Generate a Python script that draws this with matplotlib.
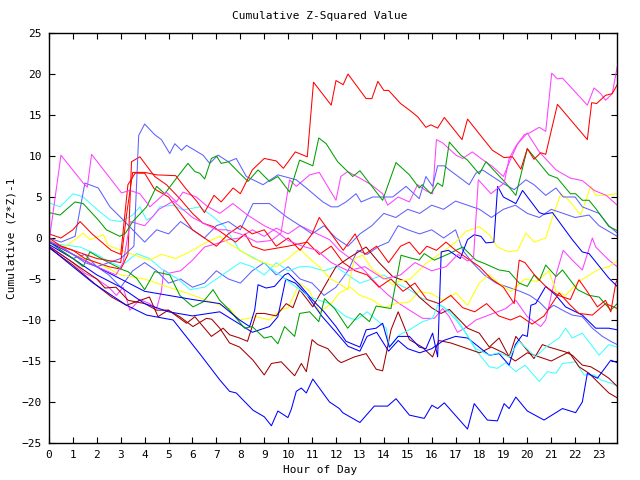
import matplotlib
matplotlib.use("Agg")
import matplotlib.pyplot as plt

# colours used by the old gnuplot gif terminal
RED = '#ff0000'
GREEN = '#00a000'
BLUE = '#0000ff'
LBLUE = '#6060ff'
MAGENTA = '#ff40ff'
CYAN = '#40ffff'
YELLOW = '#ffff00'
DRED = '#a00000'

# each series: hours and cumulative (Z*Z)-1 values
r1_h = [0, 0.5, 1, 2, 3, 3.25, 3.5, 4, 4.5, 5.3, 5.7, 6.2, 6.5, 6.9, 7.2, 7.7, 8.0, 8.5, 9.0, 9.5, 9.8, 10.3, 10.8,
        11.06, 11.8, 12.0, 12.3, 12.5, 13.26, 13.5, 13.75, 14.0, 14.2, 14.7, 15.07, 15.41, 15.76, 15.97, 16.25, 16.53,
        17.27, 17.5, 18.54, 19.03, 19.38, 19.73, 20.0, 20.28, 20.56, 20.77, 21.26, 22.51, 22.69, 22.9, 23.27, 23.55, 23.76]
r1_v = [0, -1, -1.5, -2.5, -3, 3, 8, 8, 7.7, 7.6, 6.1, 4.4, 3.1, 5.2, 4.4, 6.1, 5.4, 8.3, 9.7, 9.4, 8.5, 10.5, 9.9,
        19.0, 16.2, 19.2, 18.7, 20.0, 17.0, 17.0, 19.1, 18.0, 18.0, 16.4, 15.6, 14.8, 13.5, 13.8, 13.4, 14.7,
        12.0, 14.5, 10.7, 9.8, 9.9, 8.4, 10.9, 9.6, 10.4, 10.2, 16.3, 12.0, 16.5, 16.4, 17.4, 17.6, 18.7]

m2_h = [0, 0.5, 1.43, 1.6, 1.78, 3.03, 3.38, 3.8, 4.22, 4.9, 5.33, 5.6, 6.16, 6.6, 7.14, 7.69, 8.3, 9.0, 9.5, 10.0,
        10.6, 11.2, 11.8, 12.5, 13.2, 14.0, 14.7, 15.3, 16.0, 16.6, 17.1, 17.5, 17.75, 17.95, 18.48, 19.03, 19.24,
        19.52, 19.87, 20.08, 20.5, 20.77, 21.02, 21.26, 21.47, 22.51, 22.79, 23.07, 23.27, 23.55, 23.76]
m2_v = [-0.5, 10.1, 6.7, 6.2, 10.2, 5.5, 5.8, 5.4, 3.8, 5.6, 4.4, 5.6, 5.0, 3.9, 3.0, 4.2, 2.8, 1.5, 0.8, -0.3,
        -1.0, -1.5, -3.0, -4.0, -3.5, -5.0, -4.5, -3.0, -4.0, -3.5, -2.0, -2.8, -2.5, 7.1, 5.4, 6.7, 9.7,
        11.2, 12.6, 12.8, 13.5, 13.0, 20.1, 19.4, 19.5, 16.2, 18.3, 17.6, 16.8, 17.6, 20.9]

m3_h = [0, 1, 2, 2.8, 3.1, 3.4, 4, 4.6, 5.2, 6.0, 7.0, 7.42, 8.0, 8.7, 9.3, 9.7, 10.06, 10.34, 10.9, 11.3, 12.0,
        12.2, 12.49, 13.0, 13.47, 13.95, 14.16, 14.6, 15.07, 15.41, 15.8, 16.04, 16.2, 16.46, 17.02, 17.3, 17.7,
        18.06, 18.55, 19.0, 19.3, 19.6, 20.0, 20.5, 21.2, 21.8, 22.3, 22.8, 23.3, 23.76]
m3_v = [-0.3, -2, -3.5, -4.5, -3, 2, 1.5, 3.5, 4.5, 2.5, 1.0, 1.0, 0.5, -0.5, -0.3, 0.6, 7.1, 6.3, 7.7, 8.0, 4.6,
        7.5, 8.1, 7.3, 6.5, 5.4, 4.0, 5.0, 4.4, 6.5, 5.7, 5.4, 12.0, 11.6, 10.1, 9.7, 10.5,
        9.7, 8.7, 7.5, 9.6, 11.5, 12.8, 10.5, 8.3, 7.3, 7.0, 5.8, 5.2, 4.0]

m4_h = [0, 0.5, 1, 1.5, 2, 2.5, 2.82, 3.1, 3.38, 3.8, 4.2, 4.5, 4.7, 4.8, 5.0, 5.5, 6.0, 6.5, 7.0, 7.5, 7.97, 8.5,
        9.0, 9.5, 10.0, 10.5, 11.0, 11.73, 12.14, 12.7, 13.2, 13.8, 14.2, 14.65, 15.07, 15.62, 16.11, 16.46, 16.74,
        17.08, 17.5, 17.85, 18.3, 18.75, 19.1, 19.52, 20.0, 20.56, 20.77, 21.0, 21.2, 21.5, 21.88, 22.3, 22.72,
        22.86, 23.41, 23.76]
m4_v = [-1, -2, -3, -4.3, -5, -6, -7.0, -6, -8.8, -7.5, -8, -8.6, -6.5, -3.9, -4.3, -4.0, -2.7, -1.1, -0.7, -0.2,
        0.0, 1.0, 0.2, 1.2, 0.5, 1.5, 0.8, -0.2, -1.5, -2.7, -4.0, -5.9, -7.0, -8.0, -8.8, -9.8, -9.8, -8.6, -9.6,
        -11.5, -10.8, -10, -9.5, -9.0, -8.6, -7.6, -9.6, -10.8, -10, -7, -4.5, -1.5, -2.7, -3.9, 0,
        -1.1, -2.7, -3.5]

g1_h = [0, 0.46, 1.09, 1.43, 2.06, 2.4, 2.96, 3.2, 3.5, 4.08, 4.5, 4.84, 5.33, 5.81, 6.1, 6.3, 6.51, 6.79, 7.0, 7.2,
        7.5, 7.97, 8.32, 8.74, 9.22, 9.57, 10.06, 10.48, 11.03, 11.28, 11.59, 12.07, 12.7, 13.0, 13.95, 14.51,
        15.07, 15.48, 15.6, 15.97, 16.25, 16.46, 16.74, 17.22, 17.5, 17.99, 18.27, 19.1, 19.52, 20.0, 20.28, 20.9,
        21.26, 21.8, 22.02, 22.3, 22.58, 22.86, 23.41, 23.76]
g1_v = [3.1, 2.8, 4.4, 4.2, 2.2, 1.0, 0.2, 0.6, 2.0, 3.8, 6.3, 5.4, 7.3, 9.1, 8.1, 7.9, 7.2, 9.7, 10.0, 9.1,
        9.3, 7.9, 6.9, 8.3, 6.9, 7.5, 5.6, 9.5, 8.8, 12.2, 11.5, 9.3, 7.5, 8.2, 4.6, 9.2,
        7.7, 6.1, 6.5, 5.4, 6.7, 6.3, 11.7, 10.1, 9.5, 7.8, 9.3, 6.7, 5.2, 10.9, 9.9, 7.7,
        7.3, 5.4, 5.4, 4.6, 4.6, 3.6, 1.4, 0.9]

g2_h = [0, 0.5, 1.0, 1.43, 1.71, 2.06, 2.5, 3.1, 3.3, 3.66, 4.0, 4.42, 5.05, 5.47, 6.02, 6.44, 6.86, 7.14, 7.55,
        8.18, 8.5, 9.0, 9.3, 9.57, 9.85, 10.27, 10.48, 10.9, 11.28, 11.52, 11.94, 12.49, 13.0, 13.4, 13.68, 14.3,
        14.72, 15.07, 15.48, 15.69, 16.11, 16.74, 17.3, 17.85, 18.2, 18.82, 19.24, 19.66, 20.0, 20.28, 20.5,
        20.77, 21.2, 21.47, 22.1, 22.58, 23.0, 23.49, 23.76]
g2_v = [-0.3, -1.5, -2.5, -3.5, -1.7, -2.3, -3.0, -3.9, -4.1, -4.9, -6.3, -4.1, -4.5, -7.0, -8.4, -7.8, -6.3, -7.6, -8.8,
        -11.0, -10.8, -12.2, -12.0, -12.9, -10.8, -12.0, -9.2, -9.0, -10.2, -7.4, -8.6, -11.0, -9.2, -10.2, -8.3, -8.6,
        -2.1, -2.4, -2.7, -1.9, -2.7, -1.9, -1.1, -2.7, -3.1, -3.9, -4.1, -5.5, -5.9, -4.5, -5.2,
        -3.3, -4.7, -3.9, -6.3, -7.0, -7.2, -8.8, -8.0]

lb1_h = [0, 0.5, 1, 1.5, 2, 2.5, 3.0, 3.55, 3.75, 4.0, 4.42, 4.7, 5.05, 5.26, 5.54, 5.75, 6.44, 6.72, 7.07, 7.5, 7.83,
         8.25, 8.95, 9.57, 10.34, 10.8, 11.45, 11.8, 12.07, 12.42, 12.84, 13.05, 13.54, 14.37, 14.93, 15.48, 15.76,
         16.04, 16.25, 16.53, 16.74, 17.57, 17.85, 18.13, 18.96, 19.45, 19.94, 20.28, 20.77, 21.2, 21.5, 22.0, 22.3,
         23.0, 23.41, 23.76]
lb1_v = [-0.5, -1, -2, -3, -3.5, -3, -2.5, -1, 12.5, 13.9, 12.6, 12.0, 10.3, 11.5, 10.7, 11.3, 10.1, 9.1, 10.1, 9.3, 9.7,
         7.5, 6.5, 7.7, 7.1, 6.0, 4.4, 3.8, 3.8, 4.4, 5.4, 4.4, 5.0, 5.0, 6.3, 4.8, 7.5,
         6.3, 8.8, 8.8, 8.3, 6.5, 7.9, 8.3, 6.7, 5.9, 7.1, 6.5, 5.2, 6.1, 5.0, 5.0, 3.8,
         3.0, 1.5, 0.6]

lb3_h = [0, 0.5, 1.09, 1.5, 2.06, 2.55, 3.0, 3.5, 4.0, 4.5, 5.0, 5.5, 6.0, 6.5, 7.0, 7.5, 8.0, 8.53, 9.22, 9.92, 10.5,
         11.0, 11.5, 12.0, 12.5, 13.0, 13.5, 14.0, 14.5, 15.0, 15.5, 16.0, 16.5, 17.0, 17.5, 18.0, 18.5, 19.0, 19.5,
         20.0, 20.5, 21.0, 21.5, 22.0, 22.58, 23.0, 23.41, 23.76]
lb3_v = [0, -0.5, 0.2, 6.7, 6.1, 3.8, 2.5, 1.0, -0.5, 1.0, 0.5, 2.0, 1.0, 0.0, 1.5, 2.0, 1.0, 4.2, 4.2, 2.6, 1.5,
         0.5, 1.5, 0.0, -1.0, 0.5, 1.5, 3.0, 2.5, 3.5, 3.0, 4.0, 3.5, 4.5, 4.0, 3.5, 2.5, 3.5, 4.0,
         3.0, 2.5, 3.5, 3.0, 2.5, 2.8, 1.5, 0.8, 0.2]

lb4_h = [0, 1, 1.5, 2, 2.5, 3, 3.5, 4, 4.5, 5, 5.5, 6, 6.5, 7, 7.5, 8, 8.5, 9, 9.5, 10, 10.5, 11, 11.5, 12, 12.5,
         12.9, 13.3, 13.8, 14.2, 14.6, 15.0, 15.5, 16.0, 16.5, 17.0, 17.3, 17.7, 18.2, 18.7, 19.2, 19.7, 20.1,
         20.5, 20.84, 21.1, 21.6, 21.88, 22.3, 22.72, 23.14, 23.49, 23.76]
lb4_v = [-0.5, -2.5, -2, -3.5, -4.5, -6, -4, -3, -4, -5.5, -5, -6, -5.5, -4, -5, -5.5, -4, -3, -4.5, -3.5, -5, -5.5,
         -7, -6, -4, -1.5, -2, -1, -0.5, 1.5, 1.0, 0.5, 1.0, 0.0, 1.0, -1.5, -3.0, -4.5, -5.5, -6.0, -6.5, -7.0,
         -7.8, -8.8, -8.2, -9.0, -9.4, -9.6, -11.0, -12.0, -12.6, -13.0]

bj_h = [0, 1, 2, 3, 4, 5, 6, 7.14, 7.97, 8.39, 8.6, 8.74, 9.08, 9.43, 9.85, 10.0, 10.48, 11.0, 11.5, 12.0, 12.42,
        13.0, 13.26, 13.68, 13.95, 14.23, 14.6, 15.07, 15.48, 15.76, 16.04, 16.25, 16.4, 16.7, 17.2, 17.5, 17.78,
        18.06, 18.27, 18.6, 18.76, 19.0, 19.52, 19.8, 20.5, 20.7, 21.05, 21.88, 22.3, 22.58, 23.41, 23.76]
bj_v = [-0.5, -2, -3.5, -5, -6.5, -7, -7.5, -8.0, -10, -10.8, -8.8, -5.7, -6.1, -5.9, -4.5, -4.3, -5.7, -7.5, -9.0,
        -10.8, -12.6, -13.3, -11.2, -11.0, -10.4, -13.3, -12.0, -12.0, -13.3, -13.5, -11.6, -14.5, -1.7, -1.5, -2.5,
        -0.2, 0.4, 0.2, -0.6, -0.5, 6.3, 5.0, 4.2, 5.8, 3.1, 2.9, 3.1, -0.2, -1.7, -1.9, -4.9, -5.9]

bm_h = [0, 1, 2, 3, 4, 5, 6, 7.14, 7.97, 8.5, 9.22, 9.57, 9.9, 10.3, 10.8, 11.4, 12.0, 12.5, 13.0, 13.3, 13.7, 14.2,
        14.6, 15.0, 15.5, 16.0, 16.5, 17.0, 17.5, 17.85, 18.41, 18.82, 19.24, 19.5, 19.8, 20.0, 20.15, 20.35, 20.77,
        21.2, 21.6, 22.3, 22.86, 23.41, 23.76]
bm_v = [-0.8, -2.5, -4.5, -6, -8, -9, -9.5, -9.0, -10.5, -11.5, -10.8, -9.6, -5, -5.5, -7, -9.5, -11.5, -13.2, -13.8,
        -12, -11.5, -13.8, -12.5, -13.5, -14, -13.5, -12.5, -12.0, -12.2, -13.0, -14.3, -14.1, -15.5, -13, -11.8,
        -12.0, -8.2, -8.0, -5.9, -7, -8.4, -9.4, -11.0, -11.0, -11.2]

bb_h = [0, 1, 1.85, 3.24, 4.08, 5.19, 6.3, 7.14, 7.55, 7.83, 8.53, 9.0, 9.3, 9.57, 9.99, 10.13, 10.34, 10.55, 10.76,
        11.03, 11.73, 12.14, 12.28, 13.0, 13.6, 14.16, 14.51, 15.07, 15.69, 16.01, 16.25, 16.53, 17.5, 17.78, 18.33,
        18.75, 19.03, 19.24, 19.52, 20.0, 20.7, 21.47, 22.02, 22.3, 22.51, 22.93, 23.49, 23.76]
bb_v = [-1.1, -3.5, -5.5, -8.2, -9.4, -10, -14.1, -17.3, -18.7, -18.9, -21.0, -21.8, -22.9, -21.1, -21.9, -20.9,
        -18.7, -18.3, -18.9, -17.2, -20.0, -20.8, -21.3, -22.5, -20.5, -20.5, -19.6, -21.6, -22.0, -20.4, -20.8,
        -20.1, -23.3, -20.2, -22.2, -22.3, -20.2, -20.8, -19.4, -21.1, -22.2, -20.8, -21.3, -20.0, -16.5, -17.1,
        -14.9, -15.2]

c1_h = [0, 0.5, 1.3, 2.0, 2.4, 3.0, 3.66, 4.2, 4.8, 5.4, 5.9, 6.5, 7.0, 7.5, 8.0, 8.5, 9.0, 9.5, 10.0, 10.5, 10.9,
        11.5, 12.0, 12.5, 13.0, 13.5, 14.0, 14.5, 15.07, 15.62, 16.18, 16.88, 17.36, 17.85, 18.41, 18.75, 19.1,
        19.52, 19.9, 20.5, 20.84, 21.2, 21.47, 22.02, 22.37, 22.8, 23.07, 23.49, 23.76]
c1_v = [-0.5, -0.8, -1.1, -2.0, -2.7, -3.5, -1.9, -2.5, -4, -5, -6.3, -6.0, -5.0, -4.0, -3.0, -3.5, -4.5, -3.0, -4.0,
        -3.5, -3.5, -4.0, -3.5, -4.5, -5.5, -5.0, -4.5, -5.5, -6.3, -7.4, -7.8, -9.2, -11.2, -13.7, -15.7, -15.9,
        -15.2, -16.3, -15.5, -17.5, -16.3, -16.5, -15.3, -15.1, -16.7, -16.7, -17.3, -17.7, -18.0]

c2_h = [0, 0.46, 1.01, 1.43, 2.0, 2.55, 3.0, 3.5, 3.8, 4.08, 4.35, 4.63, 5.19, 5.6, 6.3, 6.86, 7.35, 7.97, 9.0, 9.92,
        10.9, 11.73, 12.42, 12.84, 13.3, 13.7, 14.1, 14.23, 14.65, 15.07, 15.62, 16.04, 16.25, 16.5, 17.02, 17.4,
        17.85, 18.41, 18.8, 19.24, 19.66, 20.35, 20.77, 21.33, 21.6, 21.88, 22.3, 23.0, 23.41, 23.76]
c2_v = [4.3, 3.8, 5.4, 5.0, 3.5, 2.2, 2.0, 2.8, 3.8, 2.2, 2.6, 3.8, 4.0, 3.4, 3.8, 2.6, 1.4, -1.5, -3.1, -5.1,
        -7.2, -8.0, -9.6, -10.0, -9.0, -10, -11.0, -13.3, -11.8, -11.2, -10.2, -9.8, -8.2, -8.4, -10.0, -11.5,
        -13.5, -14.3, -14, -14.5, -12.6, -14.5, -13.3, -12.2, -11.0, -12.2, -11.6, -14.3, -13.0, -13.3]

y1_h = [0, 0.67, 1.43, 1.71, 2.27, 2.47, 3.0, 3.5, 4.2, 4.7, 5.3, 6.0, 6.6, 7.14, 7.6, 8.0, 8.53, 9.0, 9.5, 10.0,
        10.48, 10.82, 11.3, 11.73, 12.1, 12.49, 12.77, 13.12, 13.54, 14.0, 14.37, 14.7, 15.07, 15.76, 16.46, 17.0,
        17.43, 17.99, 18.41, 18.75, 19.24, 19.6, 19.94, 20.28, 20.77, 21.05, 21.4, 21.74, 22.23, 22.65, 22.86,
        23.2, 23.76]
y1_v = [-0.3, -1.1, 0.6, -0.2, 0.4, -0.9, -1.5, -2.0, -2.7, -2.0, -2.5, -1.5, -0.5, 0.2, -0.8, -1.5, -2.5, -3.0,
        -3.5, -2.5, -1.3, -2.3, -3.5, -4.9, -5.5, -6.3, -2.5, -2.1, -3.9, -4.8, -5.7, -5.2, -5.1, -3.1, -1.7, -0.5,
        0.8, 1.4, 0.4, -1.1, -1.7, -1.5, 0.6, -0.5, 0.0, 2.5, 5.4, 4.6, 2.8, 6.3, 5.2,
        5.2, 5.4]

y2_h = [0, 1, 2, 3, 4, 5, 5.75, 6.5, 7.0, 7.55, 7.97, 8.67, 9.22, 9.64, 10.0, 10.48, 10.9, 11.31, 11.8, 12.14, 12.6,
        13.0, 13.5, 14.0, 14.5, 15.07, 15.48, 16.0, 16.46, 17.02, 17.5, 17.99, 18.41, 18.8, 19.31, 19.9, 20.4,
        20.9, 21.2, 21.6, 22.16, 22.6, 23.0, 23.41, 23.76]
y2_v = [-0.5, -2, -3, -4.5, -5, -6, -6.7, -7.5, -8.0, -8.6, -10, -9.6, -10.0, -8.8, -8.5, -5.5, -6.5, -9.0, -8.0,
        -6.7, -6.0, -7.0, -7.5, -8.5, -8.0, -7.8, -6.5, -6.8, -7.6, -6.7, -8.2, -5.5, -4.5, -5.5, -6.5, -5.0, -5.3,
        -4.0, -6.5, -7.0, -5.3, -4.5, -3.8, -3.5, -2.8]

dr1_h = [0, 1, 2, 2.34, 2.8, 3.31, 4.0, 4.5, 5.0, 5.75, 6.1, 6.79, 7.28, 7.55, 7.97, 8.3, 8.67, 9.0, 9.5, 9.92, 10.2,
         10.48, 10.8, 11.03, 11.5, 12.0, 12.5, 13.26, 13.8, 14.37, 14.93, 15.48, 16.0, 16.39, 16.74, 17.5, 17.99,
         18.41, 18.82, 19.24, 19.52, 19.8, 20.28, 20.63, 20.9, 21.6, 21.88, 22.3, 22.65, 23.0, 23.41, 23.76]
dr1_v = [-1, -3, -5, -6.1, -6, -7.6, -8, -8.8, -8.8, -10.4, -9.6, -12.0, -11.0, -11.8, -12.2, -12.6, -9.2, -9.2,
         -9.5, -8.0, -8.5, -6.3, -7.5, -8.4, -6, -3.5, -2.5, -1.1, -3.0, -4.7, -5.3, -7.2, -8.5, -9.2, -8.7, -11.0,
         -11.6, -13.3, -12.2, -14.5, -12.0, -13.0, -14.7, -13.0, -13.3, -13.9, -14.3, -15.5, -15.7, -16.3, -17.1,
         -18.1]

dr2_h = [0, 1, 2, 2.62, 3.24, 4.2, 4.56, 4.98, 5.47, 6.02, 6.58, 6.8, 7.14, 7.55, 7.97, 8.53, 9.0, 9.3, 9.71, 10.27,
         10.55, 10.76, 11.0, 11.24, 11.66, 12.07, 12.22, 12.77, 13.26, 13.68, 13.95, 14.1, 14.3, 14.6, 15.07, 15.6,
         16.04, 16.3, 16.8, 17.5, 18.0, 18.5, 19.0, 19.5, 20.0, 20.5, 21.0, 21.74, 22.16, 22.58, 23.41, 23.76]
dr2_v = [-1.2, -3.3, -5.8, -7.2, -8.2, -7.2, -9.6, -8.8, -9.6, -10.8, -9.8, -9.9, -11.0, -12.8, -13.3, -14.9, -16.7,
         -15.3, -15.1, -16.8, -15.3, -16.3, -12.4, -13.0, -13.5, -14.9, -15.2, -14.5, -14.1, -16.0, -16.2, -14.1,
         -11.2, -9, -12.4, -13.3, -14.5, -12.5, -12.8, -13.5, -14.0, -13.3, -14.0, -15.0, -14.0, -14.5, -15,
         -13.9, -15.7, -16.5, -18.9, -19.5]

r2_h = [0, 0.5, 1.0, 1.3, 1.8, 2.2, 2.6, 3.0, 3.3, 3.6, 4.0, 4.4, 5.0, 5.5, 6.0, 6.5, 7.0, 7.5, 8.0, 8.5, 9.0, 9.5,
        10.0, 10.5, 11.0, 11.3, 11.8, 12.3, 12.8, 13.2, 13.7, 14.2, 14.7, 15.07, 15.5, 15.8, 16.2, 16.6, 17.0, 17.5,
        18.0, 18.5, 19.0, 19.45, 19.66, 19.9, 20.3, 20.8, 21.3, 21.8, 22.16, 22.5, 22.93, 23.27, 23.49, 23.7, 23.76]
r2_v = [0.5, 0.0, 1.0, 2.0, 0.5, -0.5, -1.5, -2.0, 6.5, 7.9, 7.9, 6.0, 5.0, 3.0, 1.0, 0.0, -1.0, 0.5, 1.5, 0.5, 1.0,
        -1.0, 0.0, -1.5, 0.5, 2.5, 0.5, -1.5, 0.5, -2.0, -1.0, -3.0, -1.0, -0.5, -2.0, -1.0, -1.5, -0.5, -1.5, -2.5,
        -3.5, -5.0, -6.0, -8.0, -2.7, -3.0, -4.5, -6.0, -7.0, -7.5, -5.1, -6.5, -8.4, -7.6, -9.0, -5.5, -5.1]

r4_h = [0, 0.5, 1.0, 1.5, 2.0, 2.5, 3.0, 3.3, 3.45, 3.8, 4.42, 4.91, 5.47, 6.0, 6.44, 6.86, 7.3, 7.8, 8.2, 8.5, 9.0,
        10.0, 10.8, 11.3, 11.8, 12.3, 12.8, 13.3, 13.8, 14.3, 14.8, 15.3, 15.8, 16.3, 16.8, 17.3, 17.8, 18.3, 18.8,
        19.3, 19.7, 20.2, 20.7, 21.33, 21.8, 22.16, 22.72, 23.27, 23.76]
r4_v = [-0.5, -1.0, -1.5, -2.5, -3.0, -3.5, -3.8, -2, 9.3, 9.9, 7.5, 6.5, 4.8, 3.0, 1.8, 1.4, 0.5, -0.5, 0.5, -1.0,
        -1.5, -1.0, -0.5, -2.0, -1.0, -3.0, -4.0, -4.5, -6.0, -5.0, -6.5, -5.5, -7.5, -8.0, -7.0, -8.5, -9.0, -8.0,
        -9.5, -10.0, -9.5, -10.5, -9.5, -6.7, -8.2, -9.2, -9.4, -8.0, -8.6]

series = [
    (m4_h, m4_v, MAGENTA), (lb4_h, lb4_v, LBLUE), (y2_h, y2_v, YELLOW), (c1_h, c1_v, CYAN),
    (dr1_h, dr1_v, DRED), (dr2_h, dr2_v, DRED), (bb_h, bb_v, BLUE), (bm_h, bm_v, BLUE),
    (c2_h, c2_v, CYAN), (y1_h, y1_v, YELLOW), (lb3_h, lb3_v, LBLUE), (r4_h, r4_v, RED),
    (g2_h, g2_v, GREEN), (r2_h, r2_v, RED), (bj_h, bj_v, BLUE), (m3_h, m3_v, MAGENTA),
    (lb1_h, lb1_v, LBLUE), (g1_h, g1_v, GREEN), (m2_h, m2_v, MAGENTA), (r1_h, r1_v, RED),
]

mono = 'DejaVu Sans Mono'
fig = plt.figure(figsize=(6.4, 4.8), dpi=100)
ax = fig.add_axes([49 / 640, 1 - 443 / 480, 568 / 640, 410 / 480])

for h, v, col in series:
    ax.plot(h, v, color=col, lw=0.75, antialiased=True)

ax.set_xlim(0, 23.75)
ax.set_ylim(-25, 25)
ax.set_xticks(range(24))
ax.set_yticks(range(-25, 26, 5))
ax.tick_params(direction='in', length=4, width=0.8, top=True, right=True, labelsize=8, pad=5)
for lab in ax.get_xticklabels() + ax.get_yticklabels():
    lab.set_family(mono)
for s in ax.spines.values():
    s.set_linewidth(1.0)

fig.text(0.5, 1 - 16 / 480, 'Cumulative Z-Squared Value', ha='center', va='center', family=mono, fontsize=8)
fig.text(0.5, 1 - 470 / 480, 'Hour of Day', ha='center', va='center', family=mono, fontsize=8)
fig.text(12 / 640, 1 - 238 / 480, 'Cumulative (Z*Z)-1', ha='center', va='center', rotation=90,
         family=mono, fontsize=8)

fig.savefig('out.png', dpi=100)
